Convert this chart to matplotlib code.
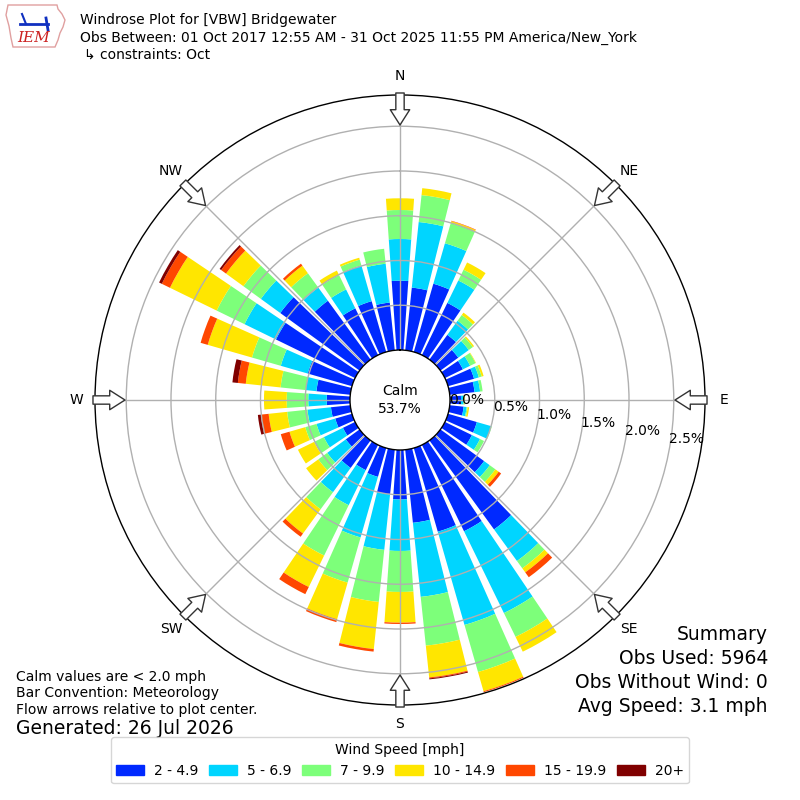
import numpy as np
import matplotlib
matplotlib.use("Agg")
import matplotlib.pyplot as plt
from matplotlib.patches import Patch, Polygon
from matplotlib.transforms import ScaledTranslation

# ---------------- data ----------------
directions = list(range(0, 360, 10))
speed_bins = ["2 - 4.9", "5 - 6.9", "7 - 9.9", "10 - 14.9", "15 - 19.9", "20+"]
compass = ["N", "NE", "E", "SE", "S", "SW", "W", "NW"]
rticks = [0.0, 0.5, 1.0, 1.5, 2.0, 2.5]
calm_pct = 53.7

pct_2_5 = [0.774, 0.704, 0.793, 0.648, 0.341, 0.246, 0.223, 0.302, 0.279, 0.123,
           0.156, 0.335, 0.335, 0.603, 1.229, 1.073, 0.972, 0.821, 0.553, 0.501,
           0.335, 0.313, 0.380, 0.190, 0.151, 0.194, 0.217, 0.260, 0.380, 0.514,
           0.983, 1.095, 0.812, 0.581, 0.590, 0.536]
pct_5_7 = [0.466, 0.737, 0.470, 0.279, 0.195, 0.145, 0.090, 0.056, 0.062, 0.028,
           0.034, 0.168, 0.101, 0.078, 0.436, 1.017, 1.084, 0.832, 0.575, 0.624,
           0.704, 0.436, 0.335, 0.257, 0.237, 0.218, 0.264, 0.206, 0.121, 0.313,
           0.391, 0.268, 0.182, 0.235, 0.416, 0.436]
pct_7_10 = [0.324, 0.302, 0.234, 0.134, 0.079, 0.056, 0.067, 0.033, 0.028, 0.011,
            0.011, 0.006, 0.050, 0.078, 0.101, 0.296, 0.547, 0.548, 0.458, 0.585,
            0.525, 0.626, 0.235, 0.123, 0.121, 0.131, 0.228, 0.241, 0.282, 0.335,
            0.346, 0.241, 0.198, 0.178, 0.067, 0.168]
pct_10_15 = [0.131, 0.078, 0.023, 0.090, 0.033, 0.017, 0.006, 0.022, 0.0, 0.006,
             0.017, 0.0, 0.0, 0.045, 0.056, 0.184, 0.223, 0.357, 0.343, 0.529,
             0.425, 0.391, 0.335, 0.168, 0.201, 0.183, 0.208, 0.254, 0.391, 0.514,
             0.581, 0.240, 0.104, 0.056, 0.022, 0.0]
pct_15_20 = [0.0, 0.0, 0.005, 0.0, 0.0, 0.0, 0.0, 0.0, 0.0, 0.0,
             0.0, 0.0, 0.0, 0.034, 0.067, 0.0, 0.011, 0.011, 0.015, 0.029,
             0.034, 0.089, 0.045, 0.0, 0.0, 0.101, 0.087, 0.0, 0.089, 0.083,
             0.101, 0.067, 0.028, 0.0, 0.0, 0.0]
pct_20p = [0.0, 0.0, 0.0, 0.0, 0.0, 0.0, 0.0, 0.0, 0.0, 0.0,
           0.0, 0.0, 0.0, 0.0, 0.0, 0.0, 0.0, 0.011, 0.0, 0.0,
           0.0, 0.0, 0.0, 0.0, 0.0, 0.0, 0.034, 0.0, 0.061, 0.0,
           0.034, 0.022, 0.0, 0.0, 0.0, 0.0]
series = [pct_2_5, pct_5_7, pct_7_10, pct_10_15, pct_15_20, pct_20p]

colors = plt.cm.jet(np.linspace(0, 1, 7))[1:]

# ---------------- figure ----------------
fig = plt.figure(figsize=(8, 8), dpi=100)
ax = fig.add_axes([0.11875, 0.11875, 0.7625, 0.7625], projection="polar")
ax.set_theta_zero_location("N")
ax.set_theta_direction(-1)

theta = np.deg2rad(directions)
bottom = np.zeros(len(directions))
for vals, col in zip(series, colors):
    v = np.array(vals)
    ax.bar(theta, v, width=np.deg2rad(8), bottom=bottom, color=col,
           linewidth=0, align="center", zorder=1)
    bottom += v

RMAX = 2.849
ax.set_ylim(0, RMAX)
ax.set_rorigin(-0.5587)
ax.set_yticks(rticks[1:])
ax.set_yticklabels([])
ax.set_xticks(np.deg2rad(np.arange(0, 360, 45)))
ax.set_xticklabels(compass)
ax.tick_params(axis="x", pad=6.5, length=0, labelsize=10)
ax.grid(True, color="#b0b0b0", lw=1)
ax.spines["polar"].set_linewidth(1.0)
ax.spines["inner"].set_linewidth(1.0)

# radial labels
off = ScaledTranslation(17 / 100, 9 / 100, fig.dpi_scale_trans)
for v in rticks:
    ax.text(np.deg2rad(100), v, f"{v:.1f}%", transform=ax.transData + off,
            ha="center", va="center", fontsize=10, zorder=5)

# calm text
ax.text(0.5, 0.5, f"Calm\n{calm_pct:.1f}%", transform=ax.transAxes,
        ha="center", va="center", fontsize=10, linespacing=1.3, zorder=6)

# flow arrows
r_tail = (307 - 50) / 89.5
r_tip = (275 - 50) / 89.5
for ang in np.arange(0, 360, 45):
    a = np.deg2rad(ang)
    ax.annotate("", xy=(a, r_tip), xytext=(a, r_tail), annotation_clip=False,
                arrowprops=dict(arrowstyle="simple,head_length=0.55,head_width=0.7,tail_width=0.3",
                                mutation_scale=20, fc="white", ec="#333333", lw=1,
                                shrinkA=0, shrinkB=0), zorder=8)

# titles
fig.text(80 / 800, 1 - 20 / 800, "Windrose Plot for [VBW] Bridgewater", fontsize=10, va="center")
fig.text(80 / 800, 1 - 38 / 800,
         "Obs Between: 01 Oct 2017 12:55 AM - 31 Oct 2025 11:55 PM America/New_York",
         fontsize=10, va="center")
fig.text(84 / 800, 1 - 55 / 800, "↳ constraints: Oct", fontsize=10, va="center")

# logo (approximate)
iowa = [(8, 5), (57, 5), (58, 9), (62, 14), (65, 20), (63, 27), (60, 33), (58, 40),
        (55, 47), (13, 47), (11, 38), (9, 26), (6, 15)]
fig.patches.append(Polygon([(x / 800, 1 - y / 800) for x, y in iowa], closed=True,
                           fill=False, ec="#e0a0a0", lw=1, transform=fig.transFigure))
fig.text(34 / 800, 1 - 38 / 800, "IEM", fontsize=11, color="#cc2020", style="italic",
         family="DejaVu Serif", ha="center", va="center")
fig.lines.append(plt.Line2D([20 / 800, 48 / 800], [1 - 24 / 800, 1 - 24 / 800],
                            color="#1030c0", lw=2, transform=fig.transFigure))
fig.lines.append(plt.Line2D([22 / 800, 26 / 800], [1 - 14 / 800, 1 - 24 / 800],
                            color="#1030c0", lw=1.5, transform=fig.transFigure))
fig.lines.append(plt.Line2D([46 / 800, 48 / 800], [1 - 18 / 800, 1 - 30 / 800],
                            color="#1030c0", lw=2, transform=fig.transFigure))

# bottom-left notes
fig.text(16 / 800, 1 - 677 / 800, "Calm values are < 2.0 mph", fontsize=10, va="center")
fig.text(16 / 800, 1 - 693 / 800, "Bar Convention: Meteorology", fontsize=10, va="center")
fig.text(16 / 800, 1 - 710 / 800, "Flow arrows relative to plot center.", fontsize=10, va="center")
fig.text(16 / 800, 1 - 729 / 800, "Generated: 26 Jul 2026", fontsize=13.5, va="center")

# summary
summary = ["Summary", "Obs Used: 5964", "Obs Without Wind: 0", "Avg Speed: 3.1 mph"]
for txt, y in zip(summary, [635, 659, 682, 706]):
    fig.text(768 / 800, 1 - y / 800, txt, fontsize=13.5, ha="right", va="center")

# legend
handles = [Patch(color=c) for c in colors]
fig.legend(handles, speed_bins, loc="lower center", bbox_to_anchor=(0.5, 0.012),
           ncol=6, title="Wind Speed [mph]", fontsize=10, title_fontsize=10,
           columnspacing=0.8, handletextpad=0.7)

fig.savefig("out.png", dpi=100)
